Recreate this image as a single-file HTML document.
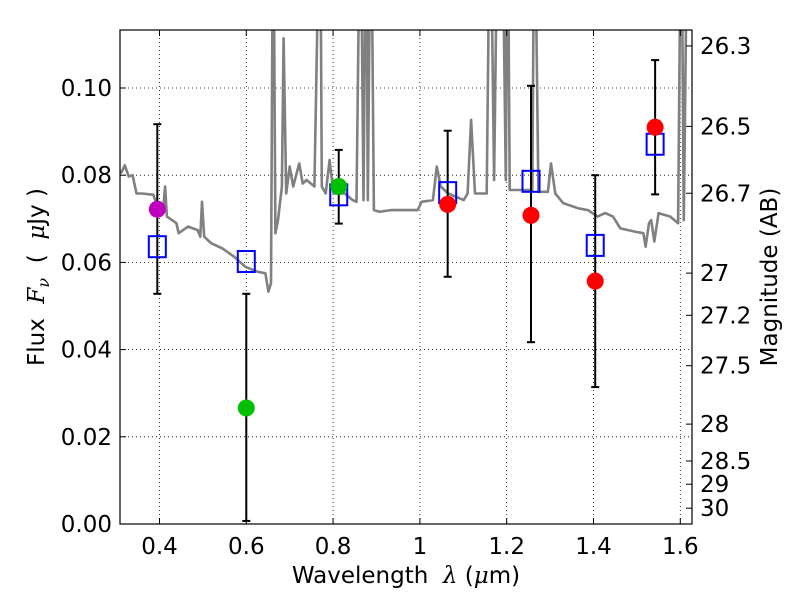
<!DOCTYPE html>
<html><head><meta charset="utf-8"><style>
body{margin:0;background:#fff}
svg text{font-family:"DejaVu Sans","Liberation Sans",sans-serif;font-size:23px;fill:#000;white-space:pre}
</style></head><body>
<svg id="chart" width="800" height="600">
<defs><clipPath id="clip"><rect x="120" y="30" width="572" height="494"/></clipPath></defs>
<rect x="0" y="0" width="800" height="600" fill="#fff"/>
<g id="grid"></g>
<g id="spec" clip-path="url(#clip)"></g>
<g id="marks"></g>
<rect x="120" y="30" width="572" height="494" fill="none" stroke="#000" stroke-width="1.2"/>
<g id="axes"></g>
<text x="406" y="583" text-anchor="middle">Wavelength  <tspan font-family="DejaVu Serif" font-style="italic">λ</tspan> (<tspan font-family="DejaVu Serif" font-style="italic">μ</tspan>m)</text>
<text transform="translate(44,277) rotate(-90)" text-anchor="middle">Flux  <tspan font-family="DejaVu Serif" font-style="italic">F<tspan font-size="16" dy="5">ν</tspan></tspan><tspan dy="-5">  (  </tspan><tspan font-family="DejaVu Serif" font-style="italic">μ</tspan>Jy )</text>
<text transform="translate(777,277) rotate(-90)" text-anchor="middle">Magnitude (AB)</text>
</svg>
<script>
const xTicks=[0.4,0.6,0.8,1.0,1.2,1.4,1.6];
const xTickLabels=["0.4","0.6","0.8","1","1.2","1.4","1.6"];
const yTicks=[0,0.02,0.04,0.06,0.08,0.10];
const yTickLabels=["0.00","0.02","0.04","0.06","0.08","0.10"];
const magTicks=[26.3,26.5,26.7,27,27.2,27.5,28,28.5,29,30];
const magTickLabels=["26.3","26.5","26.7","27","27.2","27.5","28","28.5","29","30"];
const specLam=[0.311,0.320,0.329,0.338,0.347,0.360,0.386,0.395,0.408,0.413,0.417,0.439,0.444,0.466,0.488,0.494,0.498,0.503,0.519,0.545,0.572,0.598,0.625,0.644,0.651,0.657,0.662,0.667,0.673,0.682,0.686,0.692,0.700,0.708,0.722,0.730,0.739,0.757,0.770,0.774,0.783,0.792,0.801,0.827,0.845,0.854,0.863,0.870,0.876,0.880,0.887,0.894,0.907,0.933,0.968,0.995,1.004,1.030,1.039,1.048,1.065,1.101,1.110,1.118,1.127,1.154,1.162,1.171,1.180,1.189,1.198,1.202,1.207,1.233,1.259,1.264,1.273,1.295,1.302,1.312,1.330,1.365,1.387,1.409,1.427,1.445,1.462,1.498,1.515,1.520,1.528,1.533,1.540,1.550,1.577,1.595,1.602,1.608,1.617,1.625];
const specFlux=[0.0804,0.0823,0.0797,0.0800,0.0758,0.0758,0.0755,0.0728,0.0716,0.0774,0.0705,0.0690,0.0667,0.0682,0.0674,0.0659,0.0739,0.0659,0.0644,0.0632,0.0613,0.0590,0.0579,0.0575,0.0533,0.0552,0.15,0.0667,0.0697,0.0774,0.1114,0.0758,0.0820,0.0774,0.0827,0.0781,0.0789,0.0774,0.15,0.0774,0.0758,0.0835,0.0758,0.0758,0.0743,0.0739,0.15,0.0743,0.15,0.0743,0.15,0.0720,0.0716,0.0720,0.0720,0.0720,0.0739,0.0743,0.0820,0.0774,0.0758,0.0743,0.0758,0.0927,0.0758,0.0758,0.15,0.0789,0.15,0.15,0.0789,0.15,0.0766,0.0766,0.0766,0.15,0.0762,0.0762,0.0827,0.0758,0.0736,0.0724,0.0720,0.0705,0.0713,0.0705,0.0678,0.0670,0.0667,0.0636,0.0690,0.0697,0.0648,0.0713,0.0705,0.0690,0.15,0.0697,0.15,0.15];
const bandLam=[0.395,0.600,0.813,1.064,1.256,1.404,1.542];
const obsFlux=[0.0722,0.0266,0.0774,0.0733,0.0708,0.0557,0.0910];
const errHi=[0.0917,0.0528,0.0858,0.0902,0.1005,0.0800,0.1064];
const errLo=[0.0528,0.0007,0.0689,0.0567,0.0417,0.0314,0.0756];
const modelFlux=[0.0636,0.0602,0.0755,0.0760,0.0786,0.0639,0.0871];
const pointColors=["#bf00bf","#00bf00","#00bf00","#ff0000","#ff0000","#ff0000","#ff0000"];
const NS="http://www.w3.org/2000/svg";
const X=v=>120+(v-0.309)*434;
const Y=v=>524-v*4360;
const magY=m=>Y(Math.pow(10,(23.9-m)/2.5));
function mk(tag,attrs,parent){const e=document.createElementNS(NS,tag);for(const k in attrs)e.setAttribute(k,attrs[k]);parent.appendChild(e);return e;}
const grid=document.getElementById('grid'),axes=document.getElementById('axes');
xTicks.forEach((t,i)=>{
 const g=mk('line',{x1:X(t),x2:X(t),y1:30,y2:524,stroke:'#000','stroke-width':0.8,'stroke-dasharray':'1,3'},grid);
 
 
 mk('line',{x1:X(t),x2:X(t),y1:524,y2:518,stroke:'#000'},axes);
 mk('line',{x1:X(t),x2:X(t),y1:30,y2:36,stroke:'#000'},axes);
 const tx=mk('text',{x:X(t),y:554,'text-anchor':'middle'},axes);tx.textContent=xTickLabels[i];
 
 
});
yTicks.forEach((t,i)=>{
 const g=mk('line',{x1:120,x2:692,y1:Y(t),y2:Y(t),stroke:'#000','stroke-width':0.8,'stroke-dasharray':'1,3'},grid);
 
 
 mk('line',{x1:120,x2:126,y1:Y(t),y2:Y(t),stroke:'#000'},axes);
 const tx=mk('text',{x:112,y:Y(t)+8,'text-anchor':'end'},axes);tx.textContent=yTickLabels[i];
 
 
});
magTicks.forEach((m,i)=>{
 mk('line',{x1:686,x2:692,y1:magY(m),y2:magY(m),stroke:'#000'},axes);
 const tx=mk('text',{x:700,y:magY(m)+8,'text-anchor':'start'},axes);tx.textContent=magTickLabels[i];
 
 
});
const spec=document.getElementById('spec');
const pts=specLam.map((l,i)=>X(l).toFixed(1)+','+Y(specFlux[i]).toFixed(1)).join(' ');
const pl=mk('polyline',{points:pts,fill:'none',stroke:'#808080','stroke-width':2.6,'stroke-linejoin':'round'},spec);


const marks=document.getElementById('marks');
bandLam.forEach((l,i)=>{
 const x=X(l);
 const e=mk('g',{},marks);
 
 
 mk('line',{x1:x,x2:x,y1:Y(errHi[i]),y2:Y(errLo[i]),stroke:'#000','stroke-width':2},e);
 mk('line',{x1:x-4,x2:x+4,y1:Y(errHi[i]),y2:Y(errHi[i]),stroke:'#000','stroke-width':2},e);
 mk('line',{x1:x-4,x2:x+4,y1:Y(errLo[i]),y2:Y(errLo[i]),stroke:'#000','stroke-width':2},e);
 const sq=mk('rect',{x:x-8.5,y:Y(modelFlux[i])-10.5,width:17,height:21,fill:'none',stroke:'#0000ff','stroke-width':2},marks);
 
 
 const c=mk('ellipse',{cx:x,cy:Y(obsFlux[i]),rx:8.5,ry:8.5,fill:pointColors[i]},marks);
 
 
});
</script>
</body></html>
